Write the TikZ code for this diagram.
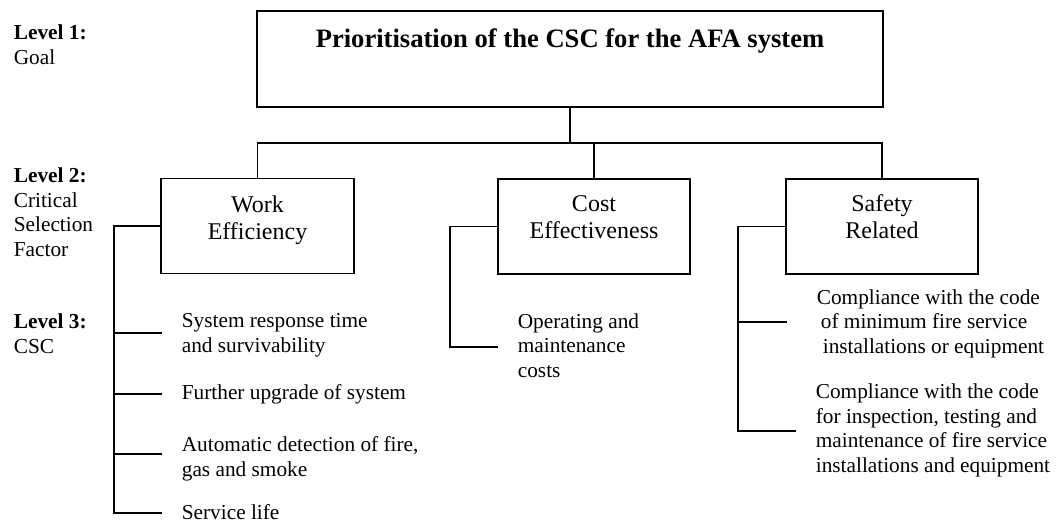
\documentclass[tikz,border=0pt]{standalone}
\usepackage{fontspec}
\setmainfont{Liberation Serif}
\begin{document}
\begin{tikzpicture}[x=1pt,y=-1pt,
  line width=1.7pt,
  box/.style={draw, line width=1.7pt, inner sep=0pt, minimum width=#1, minimum height=95pt},
  boxtext/.style={anchor=base, align=center, inner sep=0pt, font=\fontsize{24}{27}\selectfont},
  item/.style={anchor=base west, align=left, inner sep=0pt, font=\fontsize{21.3}{24.4}\selectfont},
  level/.style={anchor=base west, align=left, inner sep=0pt, font=\fontsize{21.3}{24.4}\selectfont}]
\useasboundingbox (0,0) rectangle (1057,522);

% level captions on the left (positions give the baseline of the last line)
\node[level] (lv1) at (13,64) {\textbf{Level 1:}\\Goal};
\node[level] (lv2) at (13,256) {\textbf{Level 2:}\\Critical\\Selection\\Factor};
\node[level] (lv3) at (13,353) {\textbf{Level 3:}\\CSC};

% goal box
\node[box=626pt, minimum height=96pt] (goal) at (570,59) {};
\node[anchor=base, inner sep=0pt, font=\fontsize{26.6}{30}\selectfont\bfseries] (goaltext) at (570,47)
  {Prioritisation of the CSC for the AFA system};

% critical selection factors
\node[box=193pt] (work) at (257.5,226) {};
\node[boxtext] (worktext) at (257.5,239) {Work\\Efficiency};
\node[box=192pt] (cost) at (594,226.5) {};
\node[boxtext] (costtext) at (594,238) {Cost\\Effectiveness};
\node[box=192pt] (safety) at (882,226.5) {};
\node[boxtext] (safetytext) at (882,238) {Safety\\Related};

% goal to factors
\coordinate (hub) at (570,143);
\draw (goal.south) -- (hub);
\draw (work.north) |- (hub) -| (safety.north);
\draw (cost.north) -- (cost.north |- hub);

% CSC under work efficiency
\node[item] (w1) at (181,352) {System response time\\and survivability};
\node[item] (w2) at (181,399) {Further upgrade of system};
\node[item] (w3) at (181,476) {Automatic detection of fire,\\gas and smoke};
\node[item] (w4) at (181,519) {Service life};
\coordinate (wt) at (114,513);
\coordinate (we1) at (162,333);
\coordinate (we2) at (162,394);
\coordinate (we3) at (162,454);
\coordinate (we4) at (162,513);
\draw (work.west) -| (wt) -- (we4);
\draw (we1 -| wt) -- (we1);
\draw (we2 -| wt) -- (we2);
\draw (we3 -| wt) -- (we3);

% CSC under cost effectiveness
\node[item] (c1) at (517,377) {Operating and\\maintenance\\costs};
\coordinate (ct) at (450,347);
\coordinate (ce1) at (498,347);
\draw (cost.west) -| (ct) -- (ce1);

% CSC under safety related
\node[item] (s1) at (816,353) {Compliance with the code\\\hspace*{4pt}of minimum fire service\\\hspace*{6pt}installations or equipment};
\node[item] (s2) at (815,472) {Compliance with the code\\for inspection, testing and\\maintenance of fire service\\installations and equipment};
\coordinate (st) at (738,431);
\coordinate (se1) at (787,322);
\coordinate (se2) at (796,431);
\draw (safety.west) -| (st) -- (se2);
\draw (se1 -| st) -- (se1);
\end{tikzpicture}
\end{document}
